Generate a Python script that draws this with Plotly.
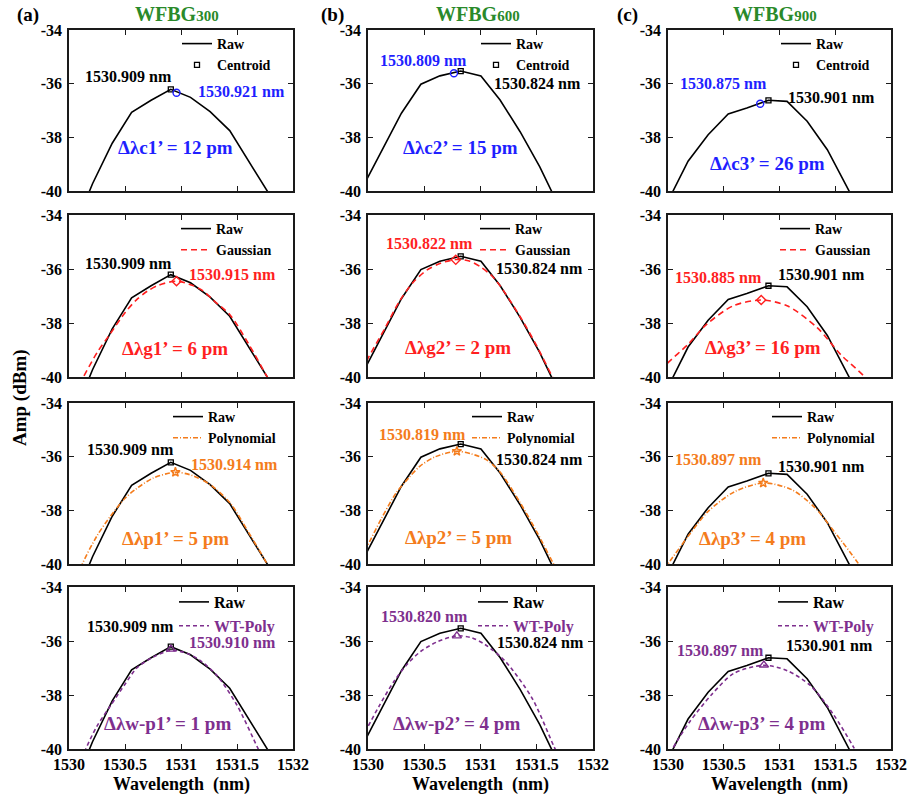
import plotly.graph_objects as go

FONT = "Liberation Serif"
W, H = 913, 795

# ---------------- data ----------------
wl_ticks = [1530, 1530.5, 1531, 1531.5, 1532]
wl_tick_text = ["1530", "1530.5", "1531", "1531.5", "1532"]
amp_ticks = [-34, -36, -38, -40]
amp_tick_text = ["-34", "-36", "-38", "-40"]

gratings = ["300", "600", "900"]
panel_tags = ["(a)", "(b)", "(c)"]

# raw spectra (one per grating)
raw_x_300 = [1530.036, 1530.21, 1530.386, 1530.559, 1530.733, 1530.909, 1531.085, 1531.26, 1531.435, 1531.61, 1531.785]
raw_y_300 = [-41.5, -39.73, -38.22, -37.07, -36.62, -36.21, -36.51, -37.04, -37.75, -38.93, -40.1]
raw_x_600 = [1529.947, 1530.122, 1530.297, 1530.47, 1530.639, 1530.824, 1531.004, 1531.174, 1531.352, 1531.527, 1531.70]
raw_y_600 = [-39.9, -38.5, -37.1, -36.02, -35.71, -35.53, -35.71, -36.61, -37.79, -39.1, -40.6]
raw_x_900 = [1529.9, 1530.045, 1530.18, 1530.36, 1530.54, 1530.707, 1530.901, 1531.068, 1531.248, 1531.429, 1531.615, 1531.7]
raw_y_900 = [-41.2, -40.0, -38.89, -37.9, -37.13, -36.91, -36.62, -36.66, -37.4, -38.46, -40.0, -40.6]

raw_peak_wl = [1530.909, 1530.824, 1530.901]
raw_peak_amp = [-36.21, -35.53, -36.62]

# Gaussian fits
gauss_x_300 = [1530.05, 1530.128, 1530.25, 1530.37, 1530.5, 1530.6, 1530.7, 1530.8, 1530.96, 1531.1, 1531.2, 1531.3, 1531.44, 1531.6, 1531.77, 1531.85]
gauss_y_300 = [-40.6, -40.0, -39.1, -38.39, -37.62, -37.15, -36.82, -36.6, -36.45, -36.6, -36.82, -37.2, -37.71, -38.75, -40.0, -40.6]
gauss_x_600 = [1529.95, 1530.0, 1530.15, 1530.28, 1530.4, 1530.52, 1530.65, 1530.78, 1530.9, 1531.0, 1531.1, 1531.174, 1531.35, 1531.5, 1531.64, 1531.72]
gauss_y_600 = [-39.75, -39.31, -38.2, -37.19, -36.5, -36.05, -35.78, -35.65, -35.7, -35.92, -36.25, -36.62, -37.75, -38.85, -40.0, -40.6]
gauss_x_900 = [1529.95, 1529.985, 1530.18, 1530.346, 1530.586, 1530.836, 1531.068, 1531.338, 1531.549, 1531.76, 1531.85]
gauss_y_900 = [-39.8, -39.54, -38.79, -38.05, -37.36, -37.15, -37.36, -38.17, -39.17, -39.98, -40.5]

# polynomial fits
poly_x_300 = [1530.08, 1530.119, 1530.25, 1530.37, 1530.5, 1530.6, 1530.75, 1530.95, 1531.1, 1531.26, 1531.44, 1531.6, 1531.77, 1531.85]
poly_y_300 = [-40.5, -40.0, -38.95, -38.22, -37.55, -37.2, -36.8, -36.58, -36.7, -37.04, -37.73, -38.8, -40.0, -40.6]
poly_x_600 = [1529.97, 1530.0, 1530.12, 1530.25, 1530.36, 1530.46, 1530.6, 1530.79, 1530.92, 1531.05, 1531.17, 1531.35, 1531.5, 1531.65, 1531.72]
poly_y_600 = [-39.5, -39.28, -38.3, -37.35, -36.8, -36.36, -36.0, -35.8, -35.9, -36.11, -36.55, -37.7, -38.8, -40.0, -40.5]
poly_x_900 = [1529.97, 1530.0, 1530.18, 1530.36, 1530.6, 1530.86, 1531.11, 1531.32, 1531.5, 1531.71, 1531.8]
poly_y_900 = [-40.2, -40.0, -38.97, -38.04, -37.3, -36.98, -37.23, -37.91, -38.84, -40.0, -40.6]

# wavelet + polynomial fits
wt_x_300 = [1530.1, 1530.15, 1530.25, 1530.37, 1530.5, 1530.61, 1530.75, 1530.91, 1531.05, 1531.17, 1531.32, 1531.5, 1531.69, 1531.75]
wt_y_300 = [-40.6, -40.0, -39.15, -38.4, -37.6, -36.98, -36.6, -36.35, -36.45, -36.72, -37.27, -38.38, -40.0, -40.5]
wt_x_600 = [1529.95, 1529.99, 1530.1, 1530.23, 1530.35, 1530.47, 1530.62, 1530.79, 1530.92, 1531.04, 1531.22, 1531.46, 1531.65, 1531.72]
wt_y_600 = [-39.6, -39.25, -38.4, -37.5, -36.85, -36.38, -36.02, -35.81, -35.88, -36.13, -36.75, -38.13, -39.88, -40.5]
wt_x_900 = [1530.0, 1530.04, 1530.19, 1530.39, 1530.59, 1530.86, 1531.07, 1531.28, 1531.48, 1531.66, 1531.75]
wt_y_900 = [-40.4, -40.0, -39.02, -37.99, -37.2, -36.9, -37.1, -37.66, -38.7, -39.9, -40.6]

# estimated peak markers (as drawn)
centroid_mark_x = [1530.96, 1530.764, 1530.827]
centroid_mark_y = [-36.34, -35.61, -36.75]
gauss_mark_x = [1530.96, 1530.78, 1530.836]
gauss_mark_y = [-36.45, -35.66, -37.15]
poly_mark_x = [1530.95, 1530.79, 1530.854]
poly_mark_y = [-36.58, -35.8, -36.98]
wt_mark_x = [1530.91, 1530.79, 1530.86]
wt_mark_y = [-36.3, -35.81, -36.89]

# text labels
raw_labels = ["1530.909 nm", "1530.824 nm", "1530.901 nm"]
centroid_labels = ["1530.921 nm", "1530.809 nm", "1530.875 nm"]
gauss_labels = ["1530.915 nm", "1530.822 nm", "1530.885 nm"]
poly_labels = ["1530.914 nm", "1530.819 nm", "1530.897 nm"]
wt_labels = ["1530.910 nm", "1530.820 nm", "1530.897 nm"]
delta_c = ["Δλc1’ = 12 pm", "Δλc2’ = 15 pm", "Δλc3’ = 26 pm"]
delta_g = ["Δλg1’ = 6 pm", "Δλg2’ = 2 pm", "Δλg3’ = 16 pm"]
delta_p = ["Δλp1’ = 5 pm", "Δλp2’ = 5 pm", "Δλp3’ = 4 pm"]
delta_w = ["Δλw-p1’ = 1 pm", "Δλw-p2’ = 4 pm", "Δλw-p3’ = 4 pm"]

# ---------------- styling / layout ----------------
BLUE = "#1f1fff"
RED = "#ff1f1f"
ORANGE = "#f47c1c"
PURPLE = "#7e2f8e"
GREEN = "#2a8a2a"

col_px = [(69, 293), (368, 593), (668, 891)]
row_px = [(30, 191), (215, 377), (403, 564), (587, 749)]

raw_x = [raw_x_300, raw_x_600, raw_x_900]
raw_y = [raw_y_300, raw_y_600, raw_y_900]

rows = [
    dict(name="Centroid", color=BLUE, fx=None, fy=None,
         mx=centroid_mark_x, my=centroid_mark_y, sym="circle-open", dash=None,
         labels=centroid_labels, deltas=delta_c),
    dict(name="Gaussian", color=RED, fx=[gauss_x_300, gauss_x_600, gauss_x_900],
         fy=[gauss_y_300, gauss_y_600, gauss_y_900],
         mx=gauss_mark_x, my=gauss_mark_y, sym="diamond-open", dash="6px,4px",
         labels=gauss_labels, deltas=delta_g),
    dict(name="Polynomial", color=ORANGE, fx=[poly_x_300, poly_x_600, poly_x_900],
         fy=[poly_y_300, poly_y_600, poly_y_900],
         mx=poly_mark_x, my=poly_mark_y, sym="star-open", dash="5px,2px,1px,2px",
         labels=poly_labels, deltas=delta_p),
    dict(name="WT-Poly", color=PURPLE, fx=[wt_x_300, wt_x_600, wt_x_900],
         fy=[wt_y_300, wt_y_600, wt_y_900],
         mx=wt_mark_x, my=wt_mark_y, sym="triangle-up-open", dash="4px,3px",
         labels=wt_labels, deltas=delta_w),
]

# label positions in data coordinates [row][col]
raw_lbl_pos = [
    [(1530.527, -35.72), (1531.51, -36.0), (1531.47, -36.5)],
    [(1530.527, -35.78), (1531.52, -36.0), (1531.38, -36.19)],
    [(1530.545, -35.75), (1531.52, -36.1), (1531.38, -36.35)],
    [(1530.545, -35.48), (1531.53, -36.07), (1531.45, -36.15)],
]
fit_lbl_pos = [
    [(1531.536, -36.28), (1530.49, -35.12), (1530.50, -36.0)],
    [(1531.46, -36.22), (1530.55, -35.04), (1530.45, -36.3)],
    [(1531.48, -36.28), (1530.48, -35.16), (1530.45, -36.1)],
    [(1531.46, -36.07), (1530.50, -35.11), (1530.47, -36.37)],
]
delta_pos = [
    [(1530.955, -38.37), (1530.82, -38.37), (1530.89, -38.96)],
    [(1530.95, -38.93), (1530.80, -38.89), (1530.85, -38.89)],
    [(1530.95, -39.04), (1530.80, -39.0), (1530.76, -39.04)],
    [(1530.88, -39.04), (1530.79, -39.04), (1530.84, -39.04)],
]
legend_text_off = [150, 149, 141, 147]

fig = go.Figure()
layout = dict(
    width=W, height=H, margin=dict(l=0, r=0, t=0, b=0, autoexpand=False),
    paper_bgcolor="white", plot_bgcolor="white", showlegend=True,
    font=dict(family=FONT, color="black"),
)
annotations = []

for r, spec in enumerate(rows):
    for c in range(3):
        k = r * 3 + c + 1
        xs = "" if k == 1 else str(k)
        xref, yref = "x" + xs, "y" + xs
        leg = "legend" if k == 1 else f"legend{k}"
        x0, x1 = col_px[c]
        y0, y1 = row_px[r]
        big = r == 3

        axis_common = dict(showline=True, linecolor="#1a1a1a", linewidth=1.6, mirror="ticks",
                           ticks="inside", ticklen=5, tickwidth=1.2, tickcolor="#1a1a1a",
                           showgrid=False, zeroline=False, automargin=False,
                           tickfont=dict(family=FONT, size=16, color="black", weight="bold"))
        layout["xaxis" + xs] = dict(axis_common, domain=[x0 / W, x1 / W], anchor=yref,
                                    range=[1530, 1532], tickvals=wl_ticks, ticktext=wl_tick_text,
                                    showticklabels=(r == 3))
        layout["yaxis" + xs] = dict(axis_common, domain=[1 - y1 / H, 1 - y0 / H], anchor=xref,
                                    range=[-40, -34], tickvals=amp_ticks, ticktext=amp_tick_text,
                                    ticklabelstandoff=2)

        fig.add_trace(go.Scatter(x=raw_x[c], y=raw_y[c], mode="lines", name="Raw",
                                 line=dict(color="black", width=1.6), xaxis=xref, yaxis=yref,
                                 legend=leg, showlegend=True))
        fig.add_trace(go.Scatter(x=[raw_peak_wl[c]], y=[raw_peak_amp[c]], mode="markers",
                                 name="Centroid", marker=dict(symbol="square-open", size=5,
                                                              color="black", line=dict(width=1.3)),
                                 xaxis=xref, yaxis=yref, legend=leg, showlegend=(r == 0)))
        if spec["fx"] is not None:
            nm = spec["name"]
            if big:
                nm = f"<span style='color:{PURPLE}'>{nm}</span>"
            fig.add_trace(go.Scatter(x=spec["fx"][c], y=spec["fy"][c], mode="lines", name=nm,
                                     line=dict(color=spec["color"], width=1.6, dash=spec["dash"],
                                               shape="spline", smoothing=0.8),
                                     xaxis=xref, yaxis=yref, legend=leg, showlegend=True))
        fig.add_trace(go.Scatter(x=[spec["mx"][c]], y=[spec["my"][c]], mode="markers",
                                 marker=dict(symbol=spec["sym"], size=7 if r != 3 else 8,
                                             color=spec["color"], line=dict(width=1.4, color=spec["color"])),
                                 xaxis=xref, yaxis=yref, legend=leg, showlegend=False))

        lfs = 16 if big else 14
        layout[leg] = dict(x=(x0 + legend_text_off[r] - 42) / W, y=1 - (y0 - 2) / H,
                           xanchor="left", yanchor="top", bgcolor="rgba(0,0,0,0)", borderwidth=0,
                           font=dict(family=FONT, size=lfs, color="black", weight="bold"),
                           itemwidth=30, tracegroupgap=0, itemclick=False)

        rx, ry = raw_lbl_pos[r][c]
        annotations.append(dict(x=rx, y=ry, xref=xref, yref=yref, text=f"<b>{raw_labels[c]}</b>",
                                showarrow=False, font=dict(family=FONT, size=16, color="black")))
        fx_, fy_ = fit_lbl_pos[r][c]
        annotations.append(dict(x=fx_, y=fy_, xref=xref, yref=yref, text=f"<b>{spec['labels'][c]}</b>",
                                showarrow=False, font=dict(family=FONT, size=16, color=spec["color"])))
        dx, dy = delta_pos[r][c]
        annotations.append(dict(x=dx, y=dy, xref=xref, yref=yref, text=f"<b>{spec['deltas'][c]}</b>",
                                showarrow=False, font=dict(family=FONT, size=19, color=spec["color"])))

title_px = [177, 478, 775]
tag_px = [28, 332, 627]
for c in range(3):
    annotations.append(dict(x=title_px[c] / W, y=1 - 14 / H, xref="paper", yref="paper",
                            xanchor="center", yanchor="middle",
                            text=f"<b>WFBG<span style='font-size:15px'>{gratings[c]}</span></b>",
                            showarrow=False, font=dict(family=FONT, size=20, color=GREEN)))
    annotations.append(dict(x=tag_px[c] / W, y=1 - 15 / H, xref="paper", yref="paper",
                            xanchor="center", yanchor="middle",
                            text=f"<b>{panel_tags[c]}</b>", showarrow=False,
                            font=dict(family=FONT, size=19, color="black")))
    annotations.append(dict(x=(col_px[c][0] + col_px[c][1]) / 2 / W, y=1 - 784 / H, xref="paper",
                            yref="paper", xanchor="center", yanchor="middle",
                            text="<b>Wavelength  (nm)</b>", showarrow=False,
                            font=dict(family=FONT, size=18, color="black")))
annotations.append(dict(x=20 / W, y=1 - 398 / H, xref="paper", yref="paper", text="<b>Amp (dBm)</b>",
                        xanchor="center", yanchor="middle",
                        textangle=-90, showarrow=False, font=dict(family=FONT, size=19, color="black")))

layout["annotations"] = annotations
fig.update_layout(**layout)
fig.write_html("out.html")
